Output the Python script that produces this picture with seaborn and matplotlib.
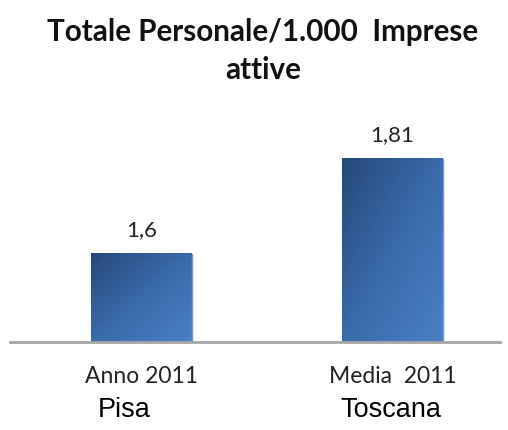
import numpy as np
import pandas as pd
import matplotlib
matplotlib.use("Agg")
import matplotlib.pyplot as plt
import matplotlib.transforms as mtransforms
from matplotlib.colors import LinearSegmentedColormap
import seaborn as sns

# ---- data ----
categories = ["Anno 2011", "Media  2011"]
places = ["Pisa", "Toscana"]
values = [1.6, 1.81]
value_labels = ["1,6", "1,81"]
title = "Totale Personale/1.000  Imprese\nattive"

df = pd.DataFrame({"cat": categories, "val": values})

sns.set_theme(style="white")
plt.rcParams["font.family"] = ["Lato", "DejaVu Sans"]

fig = plt.figure(figsize=(5.08, 4.30), dpi=100)
W, H = 508, 430
ax = fig.add_axes([10 / W, 1 - 342 / H, 490 / W, (342 - 110) / H])

sns.barplot(data=df, x="cat", y="val", ax=ax, width=0.4, color="#3a6aa8",
            edgecolor="none", saturation=1)

base = 1.405
top = 1.918

# gradient fill on bars (dark top-left -> light bottom-right)
cmap = LinearSegmentedColormap.from_list("g", ["#26497a", "#3a6aaa", "#4a80c6"])
yy, xx = np.mgrid[0:1:100j, 0:1:100j]
grad = (xx + yy) / 2.0
for p in ax.patches:
    x0, w = p.get_x(), p.get_width()
    y1 = p.get_y() + p.get_height()
    p.set_visible(False)
    ax.imshow(grad, cmap=cmap, extent=[x0, x0 + w, base, y1],
              origin="upper", aspect="auto", zorder=2, vmin=0, vmax=1)
    ax.plot([x0 + w, x0 + w], [base, y1], color="#6a9ad8", lw=1, zorder=3)
ax.set_xlim(-0.524, 1.428)
ax.set_ylim(base, top)

for i, (v, lab) in enumerate(zip(values, value_labels)):
    ax.annotate(lab, (i, v), xytext=(0, 10), textcoords="offset points",
                ha="center", va="bottom", fontsize=16, color="#222222")

for s in ["top", "right", "left"]:
    ax.spines[s].set_visible(False)
ax.spines["bottom"].set_color("#a6a6a6")
ax.spines["bottom"].set_linewidth(2)
ax.spines["bottom"].set_zorder(4)
ax.set_yticks([])
ax.set_xlabel("")
ax.set_ylabel("")
ax.tick_params(axis="x", length=0, pad=17, labelsize=16.5, labelcolor="#222222")

trans = mtransforms.blended_transform_factory(ax.transData, fig.transFigure)
offsets = [-0.07, -0.006]
for i, pl in enumerate(places):
    ax.text(i + offsets[i], 1 - 410 / H, pl, transform=trans,
            ha="center", va="center", fontsize=19.5, family="Liberation Sans",
            color="black")

fig.text(263 / W, 1 - 51 / H, title, ha="center", va="center", fontsize=21.3,
         fontweight="bold", linespacing=1.45, color="#111111")

fig.savefig("out.png", dpi=100)
